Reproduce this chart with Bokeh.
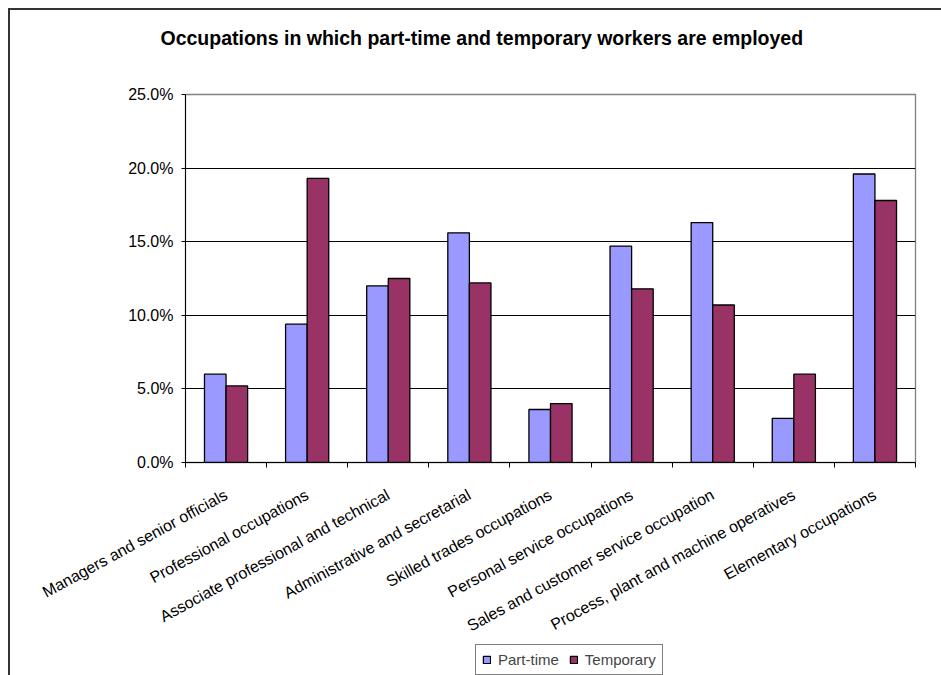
from bokeh.plotting import figure
from bokeh.layouts import column
from bokeh.models import (ColumnDataSource, FixedTicker, PrintfTickFormatter,
                          Legend, LegendItem, Range1d, Title)
from bokeh.embed import file_html
from bokeh.resources import INLINE

categories = [
    "Managers and senior officials",
    "Professional occupations",
    "Associate professional and technical",
    "Administrative and secretarial",
    "Skilled trades occupations",
    "Personal service occupations",
    "Sales and customer service occupation",
    "Process, plant and machine operatives",
    "Elementary occupations",
]
part_time = [6.0, 9.4, 12.0, 15.6, 3.6, 14.7, 16.3, 3.0, 19.6]
temporary = [5.2, 19.3, 12.5, 12.2, 4.0, 11.8, 10.7, 6.0, 17.8]
series_names = ["Part-time", "Temporary"]
series_colors = ["#9999FF", "#993366"]
y_ticks = [0, 5, 10, 15, 20, 25]

FONT = "Liberation Sans"
BW = 0.266
centers = [i + 0.5 for i in range(len(categories))]

src_pt = ColumnDataSource(dict(x=[c - BW / 2 for c in centers], top=part_time))
src_tp = ColumnDataSource(dict(x=[c + BW / 2 for c in centers], top=temporary))

W = 931
H1 = 634
H2 = 31
p = figure(width=W, height=H1, output_backend="svg", toolbar_location=None,
           x_range=Range1d(0, len(categories)), y_range=Range1d(y_ticks[0], y_ticks[-1]),
           min_border_left=175, min_border_right=26, min_border_top=84,
           min_border_bottom=H1 - 452,
           title="Occupations in which part-time and temporary workers are employed")

p.title.text_font = FONT
p.title.text_font_style = "bold"
p.title.text_font_size = "19.5px"
p.title.text_color = "#000000"
p.title.align = "left"
p.title.offset = -25
p.title.standoff = 0

# spacer between the title and the plot frame
p.add_layout(Title(text=" ", text_font_size="10px", standoff=33), "above")

p.vbar(x="x", top="top", width=BW, bottom=0, source=src_pt,
       fill_color=series_colors[0], line_color="#000000", line_width=1.3)
p.vbar(x="x", top="top", width=BW, bottom=0, source=src_tp,
       fill_color=series_colors[1], line_color="#000000", line_width=1.3)

p.outline_line_color = "#808080"
p.outline_line_width = 1.3
p.xgrid.visible = False
p.ygrid.ticker = FixedTicker(ticks=y_ticks[:-1])
p.ygrid.grid_line_color = "#000000"
p.ygrid.grid_line_width = 1

# x axis: labels at category centres, tick marks at boundaries
xa = p.xaxis[0]
xa.ticker = FixedTicker(ticks=centers, minor_ticks=list(range(len(categories) + 1)))
xa.major_label_overrides = {c: lab for c, lab in zip(centers, categories)}
xa.major_tick_out = 0
xa.major_tick_in = 0
xa.minor_tick_out = 5
xa.minor_tick_in = 0
xa.minor_tick_line_color = "#000000"
xa.axis_line_color = "#000000"
xa.major_label_orientation = 0.5
xa.major_label_text_font = FONT
xa.major_label_text_font_size = "16px"
xa.major_label_text_color = "#000000"
xa.major_label_standoff = 26

ya = p.yaxis[0]
ya.ticker = FixedTicker(ticks=y_ticks)
ya.formatter = PrintfTickFormatter(format="%.1f%%")
ya.major_tick_out = 4
ya.major_tick_in = 0
ya.minor_tick_out = 0
ya.axis_line_color = "#000000"
ya.major_label_text_font = FONT
ya.major_label_text_font_size = "16px"
ya.major_label_text_color = "#000000"
ya.major_label_standoff = 8

# legend strip below the chart
lg = figure(width=W, height=H2, output_backend="svg", toolbar_location=None,
            x_range=Range1d(0, 1), y_range=Range1d(0, 1),
            x_axis_location=None, y_axis_location=None,
            min_border=0, outline_line_color=None)
lg.grid.visible = False
items = []
for name, col in zip(series_names, series_colors):
    r = lg.vbar(x=[float("nan")], top=[float("nan")], width=0.1,
                fill_color=col, line_color="#000000", line_width=1.3)
    items.append(LegendItem(label=name, renderers=[r]))
legend = Legend(items=items, orientation="horizontal", location=(290, 0),
                border_line_color="#000000", border_line_width=1,
                label_text_font=FONT, label_text_font_size="15px",
                glyph_width=9, glyph_height=9, padding=6, spacing=10,
                label_standoff=7, margin=0, background_fill_color="#FFFFFF")
lg.add_layout(legend, "center")

layout = column(p, lg, spacing=0,
                styles={"border-left": "2px solid #333333", "border-top": "2px solid #333333",
                        "margin-left": "8px", "margin-top": "8px"})

open("out.html", "w").write(file_html(layout, INLINE))
